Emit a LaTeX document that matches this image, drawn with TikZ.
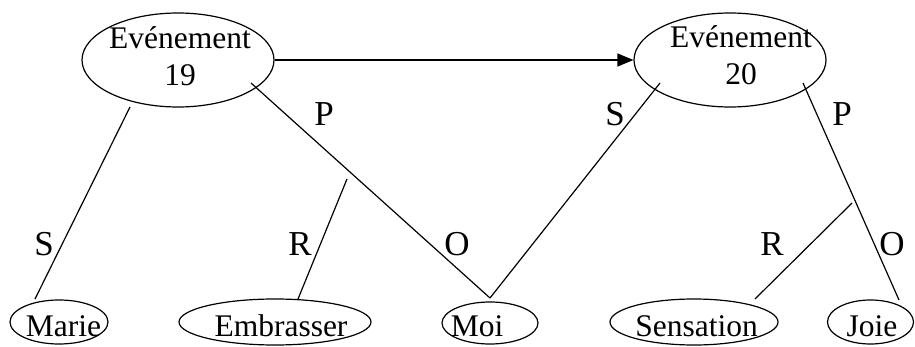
\documentclass[tikz,border=0pt]{standalone}
\usepackage{fontspec}
\setmainfont{Liberation Serif}
\usetikzlibrary{shapes.geometric,arrows.meta}
\tikzset{
  oval/.style={draw, ellipse, line width=1.2pt, inner sep=0pt},
  evtext/.style={align=center, inner sep=0pt, font=\fontsize{31.5}{37}\selectfont},
  leaftext/.style={anchor=base, inner sep=0pt, font=\fontsize{31.5}{37}\selectfont},
  rel/.style={anchor=base, inner sep=0pt, font=\fontsize{35}{40}\selectfont},
  link/.style={line width=1.2pt}
}
\begin{document}
\begin{tikzpicture}[x=1pt,y=-1pt]
\useasboundingbox (0,0) rectangle (915,347);
% event ellipses
\node[oval, minimum width=192pt, minimum height=94pt] (e19) at (178,60) {};
\node[evtext] (e19t) at (180,56) {Evénement\\19};
\node[oval, minimum width=192pt, minimum height=94pt] (e20) at (730,60) {};
\node[evtext] (e20t) at (741,55) {Evénement\\20};
% leaf ellipses
\node[oval, minimum width=98pt, minimum height=44pt] (marie) at (59,322) {};
\node[leaftext] (mariet) at (63.5,336) {Marie};
\node[oval, minimum width=192pt, minimum height=46pt] (embr) at (275,322) {};
\node[leaftext] (embrt) at (281,336) {Embrasser};
\node[oval, minimum width=96pt, minimum height=42pt] (moi) at (490,323) {};
\node[leaftext] (moit) at (477,336) {Moi};
\node[oval, minimum width=168pt, minimum height=46pt] (sens) at (694,322) {};
\node[leaftext] (senst) at (696.5,336) {Sensation};
\node[oval, minimum width=86pt, minimum height=44pt] (joie) at (870.5,322) {};
\node[leaftext] (joiet) at (872,336) {Joie};
% connector end points
\coordinate (a1) at (130,107);
\coordinate (a2) at (35,299);
\coordinate (b1) at (251,83);
\coordinate (mtop) at (490,298);
\coordinate (c1) at (347,179);
\coordinate (c2) at (298,299);
\coordinate (d1) at (660,83);
\coordinate (f1) at (803,83);
\coordinate (f2) at (899,300);
\coordinate (g1) at (852,203);
\coordinate (g2) at (755,299);
% arrow
\draw[link, -{Triangle[length=16pt,width=13pt]}] (e19.east) -- (e20.west);
% connectors
\draw[link] (a1) -- (a2);
\draw[link] (b1) -- (mtop);
\draw[link] (c1) -- (c2);
\draw[link] (mtop) -- (d1);
\draw[link] (f1) -- (f2);
\draw[link] (g1) -- (g2);
% relation labels
\node[rel] (ls1) at (44,255) {S};
\node[rel] (lr1) at (300,255) {R};
\node[rel] (lo1) at (457,255) {O};
\node[rel] (lp1) at (324,126) {P};
\node[rel] (ls2) at (615,126) {S};
\node[rel] (lp2) at (842,126) {P};
\node[rel] (lr2) at (772,255) {R};
\node[rel] (lo2) at (892,255) {O};
\end{tikzpicture}
\end{document}
